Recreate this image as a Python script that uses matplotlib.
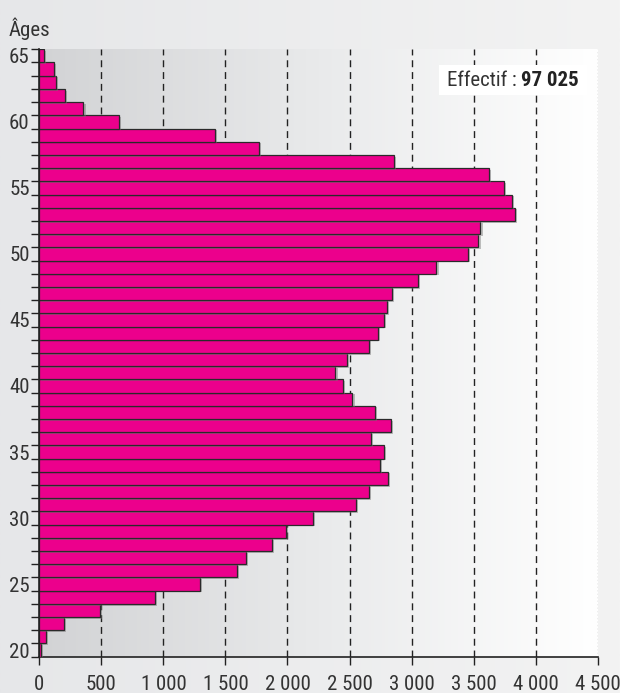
import numpy as np
import matplotlib
matplotlib.use("Agg")
import matplotlib.pyplot as plt
from matplotlib import font_manager
import matplotlib.patheffects as pe
from matplotlib.ticker import FixedLocator
from matplotlib.colors import LinearSegmentedColormap
from matplotlib.patches import Rectangle

ages = list(range(20, 66))
effectifs = [13, 51, 200, 490, 932, 1295, 1594, 1664, 1878, 1986,
             2202, 2555, 2654, 2810, 2743, 2778, 2673, 2832, 2705, 2524,
             2444, 2387, 2479, 2654, 2727, 2778, 2800, 2845, 3055, 3201,
             3453, 3539, 3555, 3835, 3806, 3742, 3622, 2858, 1769, 1416,
             640, 356, 207, 137, 115, 38]
x_ticks = [0, 500, 1000, 1500, 2000, 2500, 3000, 3500, 4000, 4500]
x_labels = ["0", "500", "1 000", "1 500", "2 000", "2 500", "3 000", "3 500", "4 000", "4 500"]
y_label_ages = [20, 25, 30, 35, 40, 45, 50, 55, 60, 65]
total_label = "97 025"

available = {f.name for f in font_manager.fontManager.ttflist}
family = "DejaVu Sans"
for cand in ["Roboto Condensed", "Liberation Sans Narrow", "Roboto"]:
    if cand in available:
        family = cand
        break
plt.rcParams['font.family'] = [family, 'DejaVu Sans']

fig = plt.figure(figsize=(6.2, 6.93), dpi=100)

# figure background gradient
bgax = fig.add_axes([0, 0, 1, 1], zorder=-10)
grad = np.linspace(0, 1, 256)[None, :]
cm_fig = LinearSegmentedColormap.from_list("f", ["#e6e7e9", "#f3f3f3"])
bgax.imshow(grad, aspect="auto", cmap=cm_fig, extent=[0, 1, 0, 1])
bgax.axis("off")

ax = fig.add_axes([0.0634, 0.0524, 0.9006, 0.8765])
ax.set_xlim(0, 4500)
ax.set_ylim(19.5, 65.5)
cm_ax = LinearSegmentedColormap.from_list("a", ["#d2d3d5", "#e9eaeb", "#ffffff"])
ax.imshow(grad, aspect="auto", cmap=cm_ax, extent=[0, 4500, 19.5, 65.5], zorder=0)

for xv in x_ticks[1:-1]:
    ax.axvline(xv, color="#222222", lw=1.0, ls=(0, (5, 3.5)), zorder=1)
ax.axvline(4500, color="#aaaaaa", lw=1.0, ls=(0, (1, 1.5)), zorder=1)

bars = ax.barh(ages, effectifs, height=1.0, color="#ec008c", edgecolor="#2a2a2a",
               linewidth=0.9, zorder=3)
for b in bars:
    b.set_path_effects([pe.SimplePatchShadow(offset=(1.5, -1.2), shadow_rgbFace="#777777", alpha=0.45),
                        pe.Normal()])

for s in ["top", "right"]:
    ax.spines[s].set_visible(False)
ax.spines["left"].set_color("#222222")
ax.spines["bottom"].set_color("#222222")
ax.spines["left"].set_linewidth(1.2)
ax.spines["bottom"].set_linewidth(1.2)
ax.spines["left"].set_zorder(4)

ax.set_xticks(x_ticks)
ax.set_xticklabels(x_labels)
ax.tick_params(axis="x", direction="out", length=6, width=1, color="#222222",
               labelsize=15, labelcolor="#333333", pad=7)

ax.yaxis.set_major_locator(FixedLocator(y_label_ages))
ax.set_yticklabels([str(a) for a in y_label_ages])
ax.yaxis.set_minor_locator(FixedLocator([a - 0.5 for a in ages] + [65.5]))
ax.tick_params(axis="y", which="major", length=0, labelsize=15, labelcolor="#333333", pad=7)
ax.tick_params(axis="y", which="minor", direction="out", length=6, width=1, color="#222222")

fig.text(0.014, 0.958, "Âges", fontsize=15, color="#333333", ha="left", va="center")

# annotation box
fig.patches.append(Rectangle((439 / 620, 1 - 95 / 693), (587 - 439) / 620, 30 / 693,
                             transform=fig.transFigure, facecolor="white", edgecolor="none", zorder=5))
t1 = fig.text(0.0, 1 - 80 / 693, "Effectif : ", fontsize=15, color="#333333", va="center", zorder=6)
t2 = fig.text(0.0, 1 - 80 / 693, total_label, fontsize=15, color="#222222", weight="bold", va="center", zorder=6)
fig.canvas.draw()
r = fig.canvas.get_renderer()
w1 = t1.get_window_extent(r).width / 620
w2 = t2.get_window_extent(r).width / 620
x0 = 513 / 620 - (w1 + w2) / 2
t1.set_x(x0)
t2.set_x(x0 + w1)

fig.savefig("out.png", dpi=100)
